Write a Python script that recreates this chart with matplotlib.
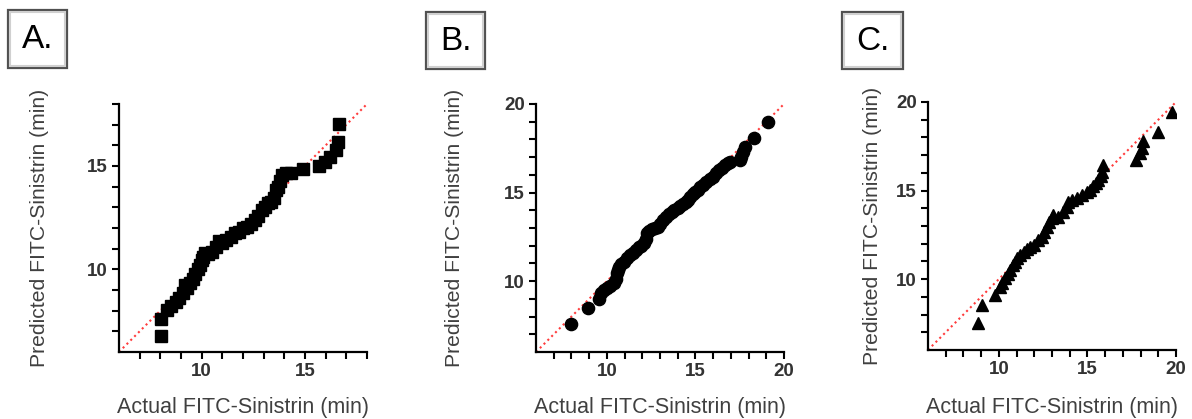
import matplotlib.pyplot as plt
from matplotlib.patches import Rectangle

plt.rcParams['font.family'] = ['Liberation Sans', 'DejaVu Sans']

# panel A (squares)
a_actual = [8.05, 8.05, 8.3, 8.5, 8.75, 8.9, 9.1, 9.2, 9.3, 9.45, 9.6, 9.7, 9.8, 9.9,
            10.0, 10.05, 10.15, 10.3, 10.5, 10.7, 10.85, 11.0, 11.2, 11.4, 11.6, 11.8,
            12.0, 12.2, 12.4, 12.6, 12.75, 12.9, 13.05, 13.2, 13.35, 13.5, 13.6, 13.7,
            13.8, 13.9, 14.1, 14.3, 14.9, 15.7, 15.95, 16.2, 16.5, 16.6, 16.65]
a_pred = [6.77, 7.58, 8.03, 8.25, 8.44, 8.6, 8.84, 9.24, 9.1, 9.35, 9.55, 9.75, 10.0, 10.2,
          10.45, 10.62, 10.78, 10.75, 10.85, 11.1, 11.35, 11.25, 11.4, 11.55, 11.75, 11.8,
          12.0, 12.07, 12.2, 12.39, 12.6, 12.88, 13.0, 13.2, 13.25, 13.45, 13.84, 14.0,
          14.25, 14.57, 14.68, 14.68, 14.85, 15.0, 15.21, 15.45, 15.78, 16.18, 17.03]

# panel B (circles)
b_actual = [7.97, 8.94, 9.54, 9.64, 9.85, 10.0, 10.2, 10.4, 10.5, 10.58, 10.62, 10.68, 10.8,
            10.95, 11.15, 11.3, 11.45, 11.63, 11.8, 11.95, 12.1, 12.2, 12.29, 12.4, 12.55,
            12.7, 12.86, 13.0, 13.15, 13.33, 13.5, 13.65, 13.8, 14.0, 14.15, 14.3, 14.45,
            14.56, 14.7, 14.85, 15.0, 15.13, 15.25, 15.4, 15.6, 15.8, 16.0, 16.17, 16.35,
            16.5, 16.65, 16.83, 16.93, 17.5, 17.6, 17.7, 17.82, 18.29, 19.1]
b_pred = [7.58, 8.5, 8.98, 9.32, 9.5, 9.6, 9.7, 9.88, 10.1, 10.45, 10.65, 10.82, 10.95,
          11.1, 11.29, 11.45, 11.6, 11.76, 11.9, 12.0, 12.14, 12.4, 12.7, 12.85, 12.95,
          13.0, 13.08, 13.25, 13.45, 13.64, 13.8, 13.9, 14.0, 14.12, 14.25, 14.35, 14.45,
          14.59, 14.75, 14.9, 15.05, 15.15, 15.3, 15.45, 15.62, 15.75, 15.9, 16.1, 16.25,
          16.4, 16.55, 16.66, 16.75, 16.85, 17.03, 17.3, 17.6, 18.07, 18.98]

# panel C (triangles)
c_actual = [8.84, 9.03, 9.79, 10.07, 10.2, 10.35, 10.5, 10.63, 10.8, 10.92, 11.05, 11.2,
            11.4, 11.6, 11.76, 12.0, 12.23, 12.42, 12.55, 12.7, 12.85, 12.99, 13.08, 13.36,
            13.6, 13.84, 13.93, 14.15, 14.4, 14.7, 14.97, 15.15, 15.34, 15.5, 15.62, 15.75,
            15.81, 15.9, 17.75, 17.98, 18.07, 18.13, 19.01, 19.8]
c_pred = [7.51, 8.54, 9.1, 9.58, 9.8, 10.05, 10.3, 10.52, 10.8, 10.99, 11.2, 11.37,
          11.55, 11.7, 11.84, 11.95, 12.21, 12.4, 12.65, 12.97, 13.2, 13.44, 13.63, 13.53,
          13.8, 14.1, 14.38, 14.45, 14.57, 14.75, 14.94, 15.05, 15.23, 15.4, 15.6, 15.8,
          16.07, 16.45, 16.73, 17.11, 17.39, 17.77, 18.33, 19.43]

panels = [
    ("A.", a_actual, a_pred, 's', 8.5, 18, [10, 15], [0.0998, 0.1599, 0.2081, 0.5919], (8, 10, 59, 58), 40),
    ("B.", b_actual, b_pred, 'o', 8.8, 20, [10, 15, 20], [0.4497, 0.1599, 0.2080, 0.5919], (426, 12, 59, 57), 455),
    ("C.", c_actual, c_pred, '^', 9, 20, [10, 15, 20], [0.7785, 0.1647, 0.2081, 0.5919], (842, 12, 61, 57), 872),
]

W, H = 1192, 419
fig = plt.figure(figsize=(W / 100, H / 100), dpi=100)

for label, xs, ys, mk, ms, hi, major, pos, box, ylx in panels:
    ax = fig.add_axes(pos)
    ax.plot([6, hi], [6, hi], ls=(0, (1, 1.6)), color='#ff3b3b', lw=1.5, zorder=1)
    ax.plot(xs, ys, ls='none', marker=mk, ms=ms, color='black', zorder=2)
    ax.set_xlim(6, hi)
    ax.set_ylim(6, hi)
    ax.set_xticks(range(7, hi + 1), minor=True)
    ax.set_yticks(range(7, hi + 1), minor=True)
    ax.set_xticks(major)
    ax.set_yticks(major)
    for s in ['top', 'right']:
        ax.spines[s].set_visible(False)
    for s in ['left', 'bottom']:
        ax.spines[s].set_linewidth(1.6)
    ax.tick_params(which='both', length=5, width=1.5, color='black')
    ax.tick_params(which='major', labelsize=13.5, labelcolor='#333333', pad=3)
    for t in ax.get_xticklabels() + ax.get_yticklabels():
        t.set_fontweight('bold')
    cx = (pos[0] + pos[2] / 2)
    fig.text(cx, 1 - 407 / H, "Actual FITC-Sinistrin (min)", ha='center', va='center',
             fontsize=15.5, color='#404040')
    fig.text(ylx / W, pos[1] + pos[3] / 2, "Predicted FITC-Sinistrin (min)", rotation=90,
             ha='center', va='center', fontsize=15.2, color='#404040')

    # label box with a bevelled look
    bx, by, bw, bh = box
    fig.patches.append(Rectangle((bx / W, 1 - (by + bh) / H), bw / W, bh / H,
                                 transform=fig.transFigure, facecolor='white',
                                 edgecolor='#505050', lw=1.6))
    fig.patches.append(Rectangle(((bx + 2) / W, 1 - (by + bh - 2) / H), (bw - 4) / W, (bh - 4) / H,
                                 transform=fig.transFigure, facecolor='none',
                                 edgecolor='#d0d0d0', lw=1.5))
    fig.text((bx + bw / 2) / W, 1 - (by + bh / 2 + 1) / H, label, ha='center', va='center',
             fontsize=24, color='black')

fig.savefig("out.png", dpi=100)
